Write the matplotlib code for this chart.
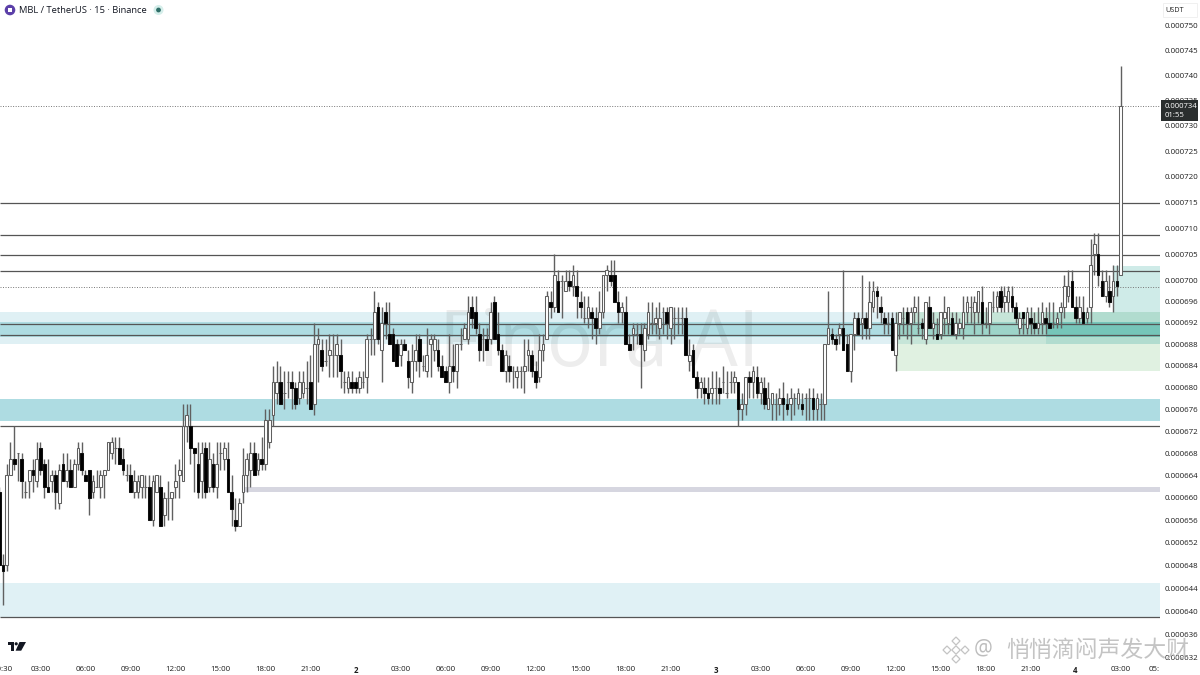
import matplotlib
matplotlib.use("Agg")
import matplotlib.pyplot as plt
from matplotlib.patches import Polygon, Ellipse, Rectangle
from matplotlib.ticker import NullLocator, FixedLocator, FixedFormatter

# Prices in millionths of a USDT, one row per ten 15-minute candles
opens = [
    661,648,648,664,667,668,667,661,663,665, 663,669,666,662,663,664,659,666,663,665,
    662,666,668,664,665,661,662,662,664,665, 668,669,669,667,664,664,661,661,662,662,
    662,656,661,662,657,660,660,662,664,663, 673,673,669,666,663,669,662,666,662,668,
    667,667,661,656,655,661,664,665,668,665, 667,666,670,675,679,681,679,681,681,680,
    678,679,680,681,677,688,687,685,686,686, 686,686,681,680,681,681,680,681,682,689,
    689,695,687,694,690,690,688,686,688,685, 681,685,689,684,683,688,687,687,684,683,
    681,684,683,688,689,689,695,694,690,689, 689,689,696,690,687,683,684,683,682,683,
    683,686,686,683,682,687,689,696,695,700, 700,698,700,699,699,696,693,693,694,693,
    691,694,701,701,701,696,694,694,688,690, 690,690,687,690,692,692,691,694,694,691,
    693,693,693,693,685,687,682,680,680,679, 679,680,680,681,679,681,681,681,676,677,
    682,681,682,679,680,676,677,677,677,678, 677,677,678,677,677,678,678,678,676,677,
    677,688,690,689,690,691,688,683,690,693, 692,693,691,695,698,695,693,692,693,686,
    692,693,694,692,694,691,692,689,695,691, 690,690,693,692,693,690,691,691,694,695,
    694,694,696,692,692,695,695,698,696,696, 697,695,691,694,691,693,692,691,692,693,
    692,692,692,694,695,697,700,695,693,694, 693,695,705,705,700,697,698,697,700,701,
]
closes = [
    648,647,664,667,666,668,663,661,665,664, 667,665,662,661,664,661,665,663,665,662,
    666,669,665,663,660,663,662,664,665,670, 670,669,666,665,664,661,663,663,664,662,
    656,663,664,655,660,660,661,663,665,673, 675,669,668,661,668,661,667,662,666,668,
    669,661,658,655,659,664,667,668,664,667, 666,674,674,681,681,677,679,681,680,677,
    681,681,680,676,688,689,684,685,687,686, 688,683,681,682,680,680,682,681,689,689,
    694,689,692,692,688,685,684,688,687,682, 685,687,685,684,686,689,689,684,682,681,
    684,683,688,688,691,694,693,691,687,689, 687,694,689,687,683,686,683,683,683,683,
    684,687,683,681,687,688,697,695,701,694, 700,700,699,701,697,695,693,695,693,691,
    694,701,702,700,696,694,695,688,687,691, 690,688,691,694,692,693,693,694,692,695,
    693,693,693,686,686,682,680,681,679,678, 680,680,679,681,679,681,682,676,677,682,
    681,683,679,681,677,678,679,677,678,677, 676,678,678,679,676,678,678,676,678,677,
    688,691,689,688,691,687,683,690,693,690, 693,691,696,698,697,694,692,692,687,692,
    694,693,692,694,695,691,691,696,691,692, 689,694,694,695,690,692,692,694,696,695,
    696,698,692,692,696,695,697,695,697,698, 695,693,693,693,694,692,691,692,694,692,
    691,692,693,695,699,699,695,693,695,692, 694,703,707,701,697,700,696,700,699,734,
]
highs = [
    662,650,666,670,673,668,668,663,665,667, 670,670,667,667,665,665,666,668,668,667,
    667,670,670,665,665,664,665,665,665,670, 671,671,671,669,666,666,665,664,664,664,
    664,664,664,664,661,663,661,666,667,677, 677,677,669,670,670,670,670,668,670,670,
    670,670,664,660,660,669,668,670,670,668, 671,676,676,684,685,684,683,683,683,681,
    683,683,685,686,692,691,689,689,690,690, 690,689,683,683,683,682,683,683,690,691,
    698,696,695,696,696,691,689,689,689,687, 688,690,690,686,691,690,690,689,686,684,
    690,688,688,691,692,697,697,697,692,691, 691,696,697,694,688,687,686,684,684,684,
    689,689,687,685,690,690,698,698,705,702, 701,702,702,703,702,698,697,697,695,695,
    698,701,703,704,704,698,696,697,690,692, 692,692,692,696,696,695,696,695,695,695,
    695,695,695,695,689,688,683,682,682,682, 683,683,682,684,683,683,683,681,679,682,
    683,684,684,682,682,681,679,679,680,681, 679,680,679,680,679,679,680,680,679,679,
    688,698,691,690,692,702,690,690,694,694, 701,694,700,700,699,697,694,694,694,694,
    694,695,695,695,697,697,693,696,697,694, 693,694,697,695,694,694,693,697,697,697,
    697,698,699,695,696,698,698,699,699,699, 699,696,694,694,695,695,694,695,696,695,
    696,696,694,696,701,702,702,697,697,697, 695,708,709,709,702,702,701,703,703,742,
]
lows = [
    648,641,647,664,665,663,660,660,660,661, 662,664,660,661,661,658,658,663,662,662,
    662,665,664,663,657,660,662,660,660,665, 667,666,666,664,663,661,660,660,660,660,
    656,655,661,655,655,656,656,660,660,663, 670,666,661,660,660,660,661,661,660,665,
    665,661,655,654,655,659,661,662,664,664, 665,665,669,673,677,677,676,678,676,676,
    677,678,677,676,675,681,683,684,682,682, 682,680,679,679,679,679,679,680,679,686,
    686,688,681,689,688,685,684,684,687,680, 679,683,682,683,682,682,685,683,682,681,
    679,681,680,687,689,688,691,690,685,685, 687,688,689,686,683,681,681,680,680,680,
    679,683,682,680,681,685,689,693,694,694, 693,698,698,697,693,693,692,691,689,688,
    690,693,698,699,696,692,692,688,687,687, 688,680,685,689,690,690,689,690,689,688,
    689,690,690,686,683,682,678,678,677,677, 677,677,677,679,678,679,679,673,674,675,
    678,678,678,677,676,676,674,674,675,674, 675,674,675,676,675,674,674,674,674,674,
    674,688,688,687,688,687,683,681,687,690, 689,689,689,694,693,692,690,690,687,683,
    689,690,689,688,692,690,689,688,691,689, 689,689,690,690,690,689,690,689,692,692,
    690,692,690,691,690,694,694,694,694,694, 694,692,690,690,690,690,690,690,690,690,
    691,691,691,691,693,696,695,692,692,692, 692,692,701,699,697,696,695,694,697,701,
]

price_ticks = [750,745,740,735,730,725,720,715,710,705,700,696,692,688,684,680,676,
               672,668,664,660,656,652,648,644,640,636,632]
time_ticks = [1,11,23,35,47,59,71,83,95,107,119,131,143,155,167,179,191,203,215,227,
              239,251,263,275,287,299,308]
time_labels = ["00:30","03:00","06:00","09:00","12:00","15:00","18:00","21:00","2",
               "03:00","06:00","09:00","12:00","15:00","18:00","21:00","3",
               "03:00","06:00","09:00","12:00","15:00","18:00","21:00","4","03:00","05:"]
solid_levels = [714.9,708.75,704.9,701.9,691.9,689.8,672.9,639.0]
dotted_levels = [733.9,698.8]

W, H = 1200, 675
INK = "#606060"
fig = plt.figure(figsize=(12,6.75), dpi=100, facecolor="white")
ax = fig.add_axes([0, (H-660)/H, 1160/W, 660/H])
ax.set_yscale("log")
ax.set_xlim(0.213, 309.5)
ax.set_ylim(631.6, 755.3)
for s in ax.spines.values():
    s.set_visible(False)
ax.yaxis.tick_right()
ax.yaxis.set_major_locator(FixedLocator(price_ticks))
ax.yaxis.set_major_formatter(FixedFormatter([f"0.{p:06d}" for p in price_ticks]))
ax.yaxis.set_minor_locator(NullLocator())
ax.set_xticks(time_ticks)
ax.set_xticklabels(time_labels)
ax.tick_params(axis="both", length=0, labelsize=5.7, labelcolor="#1c1c1c")
ax.tick_params(axis="y", pad=3.6)
ax.tick_params(axis="x", pad=4.2)
for lab in ax.get_xticklabels() + ax.get_yticklabels():
    lab.set_family("Open Sans")
for lab in ax.get_yticklabels():
    lab.set_verticalalignment("center_baseline")
for lab, t in zip(ax.get_xticklabels(), time_labels):
    if len(t) == 1:
        lab.set_fontweight("bold")

def zone(x0, x1, lo, hi, color, alpha=1.0, z=1):
    ax.fill_between([x0, x1], lo, hi, color=color, alpha=alpha, lw=0, zorder=z)

X0, X1 = 0.213, 309.5
zone(X0, X1, 688.0, 694.0, "#dff0f4")
zone(X0, X1, 689.4, 692.2, "#aedce2")
zone(X0, X1, 673.8, 677.9, "#aedce2")
zone(X0, X1, 639.0, 644.9, "#e0f1f5")
zone(65.5, X1, 661.0, 661.9, "#d6d6e0")
zone(239, X1, 683.0, 694.0, "#4caf50", 0.17, 2)
zone(279, X1, 688.0, 694.0, "#26a69a", 0.13, 2)
zone(279, X1, 689.4, 692.2, "#26a69a", 0.22, 2)
zone(297, X1, 694.0, 702.8, "#26a69a", 0.22, 2)

ax.text(600/3.75, 687.7, "Finora AI", fontsize=56, color="#000000", alpha=0.07,
        family="Open Sans", ha="center", va="center", zorder=3)

ax.hlines(solid_levels, X0, X1, color="#555555", lw=0.9, zorder=4)
ax.hlines(dotted_levels, X0, X1, color="#777777", lw=0.7, linestyles=(0, (1, 1.6)), zorder=4)

xs = list(range(len(opens)))
ax.vlines(xs, lows, highs, color=INK, lw=1.0, zorder=5)
bottoms = [min(o, c) for o, c in zip(opens, closes)]
heights = [abs(o - c) for o, c in zip(opens, closes)]
fills = ["#000000" if c < o else "#ffffff" for o, c in zip(opens, closes)]
edges = ["#111111" if c < o else INK for o, c in zip(opens, closes)]
ax.bar(xs, heights, bottom=bottoms, width=0.7, color=fills, edgecolor=edges, lw=0.75, zorder=6)

def px(x, y):
    return (x / W, 1 - y / H)

def add(p):
    p.set_transform(fig.transFigure)
    p.set_clip_on(False)
    p.set_zorder(20)
    ax.add_patch(p)

def dot(x, y, r, color):
    add(Ellipse(px(x, y), 2*r/W, 2*r/H, fc=color, ec="none"))

# last-price tag and unit box
add(Rectangle(px(1161, 121), 37/W, 21/H, fc="#2a2e2e", ec="none"))
fig.text(1164.5/W, 1-106.5/H, "0.000734", color="white", fontsize=5.6, family="Open Sans", va="center", zorder=30)
fig.text(1164.5/W, 1-115.5/H, "01:55", color="white", fontsize=5.6, family="Open Sans", va="center", zorder=30)
add(Rectangle(px(1163, 17), 34/W, 14/H, fc="white", ec="#f0f0f0", lw=0.7))
fig.text(1165/W, 1-10/H, "USDT", color="#222222", fontsize=5.2, family="Open Sans", va="center", zorder=30)

# header
dot(10, 10, 5.3, "#5b3fa8")
add(Rectangle(px(7.6, 12.2), 4.8/W, 4.4/H, fc="white", ec="none"))
fig.text(19/W, 1-10.3/H, "MBL / TetherUS \u00b7 15 \u00b7 Binance", color="#131722", fontsize=6.75,
         family="Open Sans", va="center")
dot(158.5, 10, 5, "#d5eeea")
dot(158.5, 10, 2.4, "#2f6f68")

# chart logo
add(Polygon([px(7.5,642),px(13.5,642),px(13.5,650.7),px(10.5,650.7),px(10.5,645),px(7.5,645)], fc="#131722", ec="none"))
dot(16.2, 643.8, 1.6, "#131722")
add(Polygon([px(19.5,642),px(26,642),px(21.2,650.7),px(15.6,650.7)], fc="#131722", ec="none"))

# platform watermark
for cx, cy, r in [(956,650,4.2),(956,641,4),(956,659,4),(947,650,4),(965,650,4)]:
    add(Polygon([px(cx-r,cy),px(cx,cy-r),px(cx+r,cy),px(cx,cy+r)], fc="white", ec="#c4c4c4", lw=0.9))
fig.text(983/W, 1-649/H, "@", color="#bdbdbd", fontsize=15, family="Open Sans", ha="center", va="center", zorder=30)
fig.text(1098/W, 1-650/H, "\u6084\u6084\u6ef4\u95f7\u58f0\u53d1\u5927\u8d22", color="#c4c4c4", fontsize=16.5,
         family=["Noto Sans CJK SC", "DejaVu Sans"], ha="center", va="center", zorder=30)

fig.savefig("out.png", dpi=100)
